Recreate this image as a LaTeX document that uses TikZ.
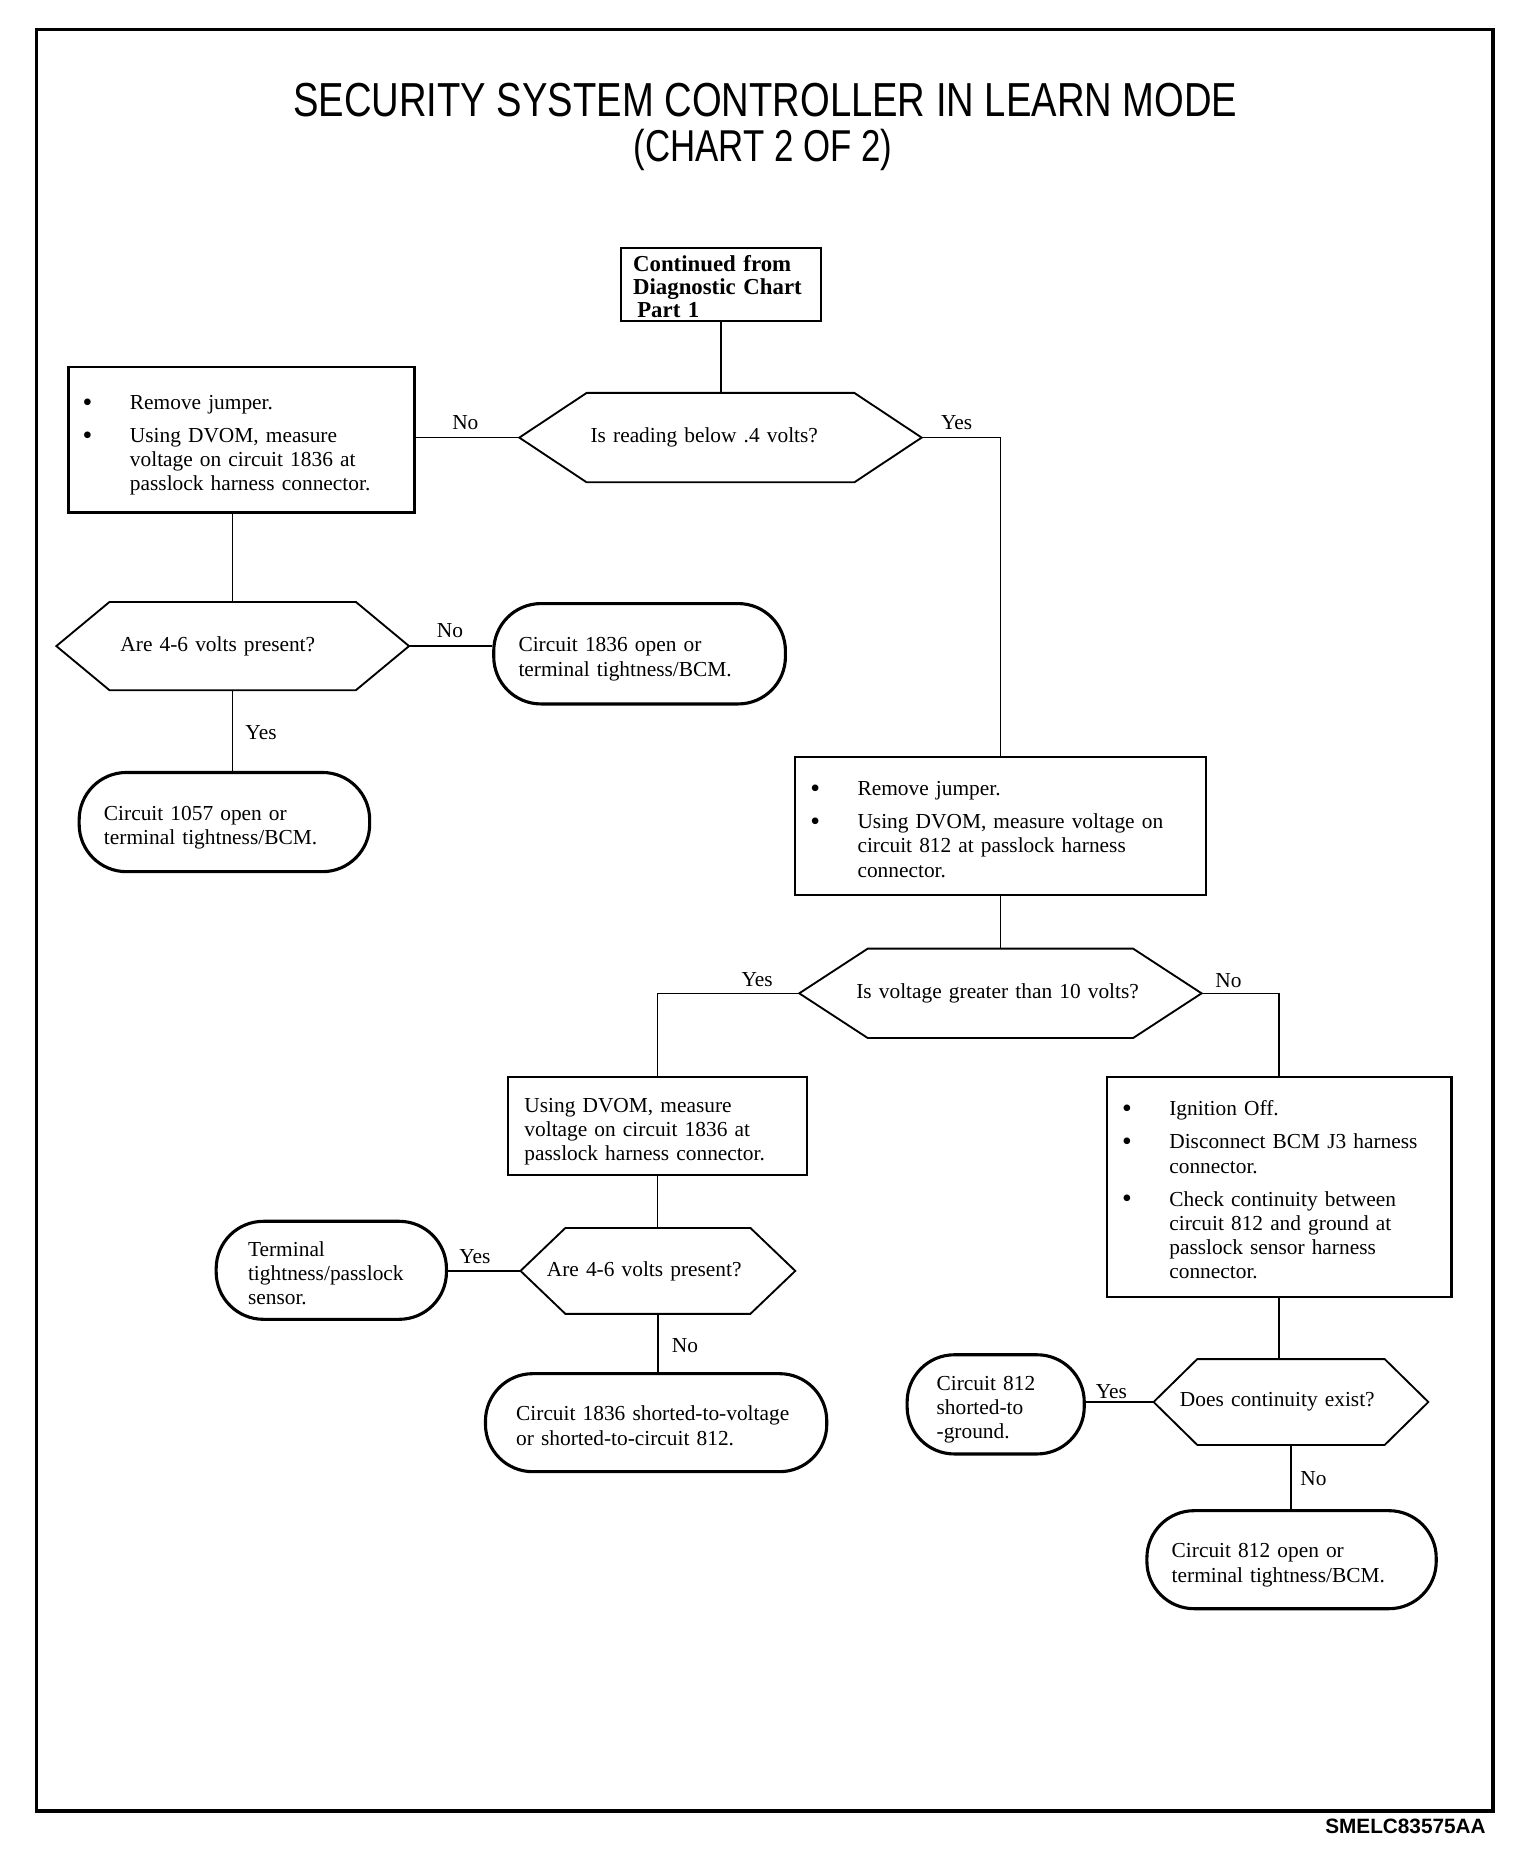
\documentclass[tikz,border=0pt]{standalone}
\usepackage{fontspec}
\setmainfont{Liberation Serif}
\newfontfamily\titlefont{Liberation Sans}
\usepackage{graphicx}

\newcommand{\bul}{\makebox[0.8cm][l]{\raisebox{-0.9pt}{\scalebox{1.3}{\textbullet}}}}
\newcommand{\gap}{\hspace*{0.8cm}}
\newcommand{\lines}[1]{\raisebox{-2.6pt}[\height][\depth]{\begin{tabular}{@{}l@{}}#1\end{tabular}}}
\newcommand{\hexoutline}[2]{\draw[hexline] (#1.west) -- ([xshift=#2]#1.north west) -- ([xshift=-#2]#1.north east) -- (#1.east) -- ([xshift=-#2]#1.south east) -- ([xshift=#2]#1.south west) -- cycle;}

\begin{document}
\begin{tikzpicture}[x=0.02cm, y=-0.02cm, every node/.style={font=\fontsize{10.3}{11.7}\selectfont},
  boxline/.style={line width=1.1pt}, hexline/.style={line width=0.9pt}, link/.style={line width=0.7pt},
  box/.style={draw, boxline, align=left, inner ysep=0pt},
  hexnode/.style={align=left, inner ysep=0pt},
  term/.style={draw, line width=1.5pt, rounded corners=0.8cm, align=left, inner ysep=0pt}]
\useasboundingbox (0,0) rectangle (1300,1568);
\draw[line width=1.8pt] (31,25) rectangle (1264,1533);

\node (title) at (648,85) {\titlefont\fontsize{23}{26}\selectfont\scalebox{0.8}[1]{SECURITY SYSTEM CONTROLLER IN LEARN MODE}};
\node (subtitle) at (646,127) {\titlefont\fontsize{21.5}{24}\selectfont\scalebox{0.78}[1]{(CHART 2 OF 2)}};
\node[anchor=east] (code) at (1264,1546) {\titlefont\bfseries\fontsize{10}{12}\selectfont SMELC83575AA};

\node[box, font=\fontsize{11}{11.1}\selectfont\bfseries, text width=2.98cm, inner xsep=0.2cm, minimum height=1.24cm] (start) at (610.5,241) {\lines{Continued from\\Diagnostic Chart\\\hspace{2pt}Part 1}};

\node[hexnode, text width=4.4cm, inner xsep=1.2cm, minimum height=1.5cm] (reading) at (610,370.5) {Is reading below .4 volts?};
\hexoutline{reading}{1.14cm}
\node[box, text width=5.38cm, inner xsep=0.24cm, minimum height=2.46cm] (jumperA) at (204.5,372.5) {\lines{\bul Remove jumper.\\[4.2pt] \bul Using DVOM, measure\\ \gap voltage on circuit 1836 at\\ \gap passlock harness connector.}};
\node[hexnode, text width=3.8cm, inner xsep=1.08cm, minimum height=1.48cm] (presentA) at (197,547) {Are 4-6 volts present?};
\hexoutline{presentA}{0.9cm}
\node[term, text width=4.1cm, inner xsep=0.42cm, minimum height=1.7cm] (open1836) at (541.5,553.5) {\lines{Circuit 1836 open or\\terminal tightness/BCM.}};
\node[term, text width=4.08cm, inner xsep=0.42cm, minimum height=1.68cm] (open1057) at (190,696) {\lines{Circuit 1057 open or\\terminal tightness/BCM.}};

\node[box, text width=6.44cm, inner xsep=0.26cm, minimum height=2.34cm] (jumperB) at (847,699.5) {\lines{\bul Remove jumper.\\[4.2pt] \bul Using DVOM, measure voltage on\\ \gap circuit 812 at passlock harness\\ \gap connector.}};
\node[hexnode, text width=4.88cm, inner xsep=0.96cm, minimum height=1.5cm] (greater) at (847,841) {Is voltage greater than 10 volts?};
\hexoutline{greater}{1.16cm}

\node[box, text width=4.5cm, inner xsep=0.28cm, minimum height=1.66cm] (measure) at (556.5,953.5) {\lines{Using DVOM, measure\\voltage on circuit 1836 at\\passlock harness connector.}};
\node[hexnode, text width=3.76cm, inner xsep=0.44cm, minimum height=1.44cm] (presentB) at (557,1076) {Are 4-6 volts present?};
\hexoutline{presentB}{0.76cm}
\node[term, text width=2.82cm, inner xsep=0.54cm, minimum height=1.66cm] (terminal) at (280.5,1075.5) {\lines{Terminal\\tightness/passlock\\sensor.}};
\node[term, text width=4.74cm, inner xsep=0.52cm, minimum height=1.66cm] (shorted) at (555.5,1204.5) {\lines{Circuit 1836 shorted-to-voltage\\or shorted-to-circuit 812.}};

\node[box, text width=5.32cm, inner xsep=0.26cm, minimum height=3.72cm] (ignition) at (1083,1005) {\lines{\bul Ignition Off.\\[4.2pt] \bul Disconnect BCM J3 harness\\ \gap connector.\\[4.2pt] \bul Check continuity between\\ \gap circuit 812 and ground at\\ \gap passlock sensor harness\\ \gap connector.}};
\node[hexnode, text width=3.76cm, inner xsep=0.44cm, minimum height=1.44cm] (continuity) at (1093,1187) {Does continuity exist?};
\hexoutline{continuity}{0.74cm}
\node[term, text width=2.0cm, inner xsep=0.5cm, minimum height=1.68cm] (ground) at (843,1189) {\lines{Circuit 812\\shorted-to\\-ground.}};
\node[term, text width=4.06cm, inner xsep=0.42cm, minimum height=1.66cm] (open812) at (1093.5,1320.5) {\lines{Circuit 812 open or\\terminal tightness/BCM.}};

\draw[link] (start.south) -- (start.south |- reading.north);
\draw[link] (reading.west) -- (reading.west -| jumperA.east);
\draw[link] (reading.east) -| (jumperB.north);
\draw[link] (jumperA.south -| presentA.north) -- (presentA.north);
\draw[link] (presentA.east) -- (presentA.east -| open1836.west);
\draw[link] (presentA.south) -- (presentA.south |- open1057.north);
\draw[link] (jumperB.south) -- (jumperB.south |- greater.north);
\draw[link] (greater.west) -| (measure.north);
\draw[link] (greater.east) -| (ignition.north);
\draw[link] (measure.south) -- (measure.south |- presentB.north);
\draw[link] (presentB.west) -- (presentB.west -| terminal.east);
\draw[link] (presentB.south) -- (presentB.south |- shorted.north);
\draw[link] (ignition.south) -- (ignition.south |- continuity.north);
\draw[link] (continuity.west) -- (continuity.west -| ground.east);
\draw[link] (continuity.south) -- (continuity.south |- open812.north);

\node (noA) at (394,358) {No};
\node (yesA) at (810,358) {Yes};
\node (noB) at (381,534) {No};
\node (yesB) at (221,620) {Yes};
\node (yesC) at (641,829) {Yes};
\node (noC) at (1040,830) {No};
\node (yesD) at (402,1064) {Yes};
\node (noD) at (580,1139) {No};
\node (yesE) at (941,1178) {Yes};
\node (noE) at (1112,1252) {No};
\end{tikzpicture}
\end{document}
